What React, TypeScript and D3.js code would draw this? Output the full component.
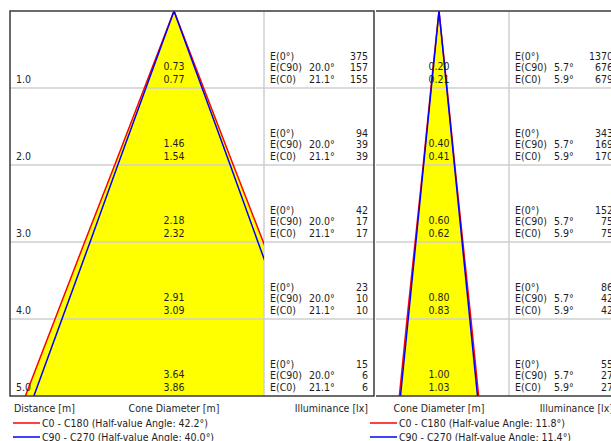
import React from 'react';
import * as d3 from 'd3';

const distances = [1, 2, 3, 4, 5];
const distanceLabels = ['1.0', '2.0', '3.0', '4.0', '5.0'];

const leftC90Diameter = [0.73, 1.46, 2.18, 2.91, 3.64];
const leftC0Diameter = [0.77, 1.54, 2.32, 3.09, 3.86];
const leftE0 = [375, 94, 42, 23, 15];
const leftEC90 = [157, 39, 17, 10, 6];
const leftEC0 = [155, 39, 17, 10, 6];
const leftAngleC90 = '20.0°';
const leftAngleC0 = '21.1°';
const leftLegend = ['C0 - C180 (Half-value Angle: 42.2°)', 'C90 - C270 (Half-value Angle: 40.0°)'];

const rightC90Diameter = [0.2, 0.4, 0.6, 0.8, 1.0];
const rightC0Diameter = [0.21, 0.41, 0.62, 0.83, 1.03];
const rightE0 = [1370, 343, 152, 86, 55];
const rightEC90 = [676, 169, 75, 42, 27];
const rightEC0 = [679, 170, 75, 42, 27];
const rightAngleC90 = '5.7°';
const rightAngleC0 = '5.9°';
const rightLegend = ['C0 - C180 (Half-value Angle: 11.8°)', 'C90 - C270 (Half-value Angle: 11.4°)'];

const tableRowLabels = ['E(0°)', 'E(C90)', 'E(C0)'];

const W = 611;
const H = 441;
const TOP = 11;
const BOTTOM = 396;
const FONT = "'DejaVu Sans Condensed', 'DejaVu Sans', sans-serif";
const TEXT = '#1e1e1e';
const FRAME = '#3a3a3a';
const GRID = '#cfcfcf';
const RED = '#ff0000';
const BLUE = '#0000ff';

const y = d3.scaleLinear().domain([0, 5]).range([TOP, BOTTOM]);

type PanelProps = {
  id: string;
  center: number;
  coneLeft: number;
  divider: number;
  right: number;
  c90: number[];
  c0: number[];
  e0: number[];
  ec90: number[];
  ec0: number[];
  angC90: string;
  angC0: string;
  showDistance: boolean;
  legend: string[];
  legendX: number;
};

function Panel(p: PanelProps) {
  const pxPerM = y(1) - y(0);
  const x = d3.scaleLinear().domain([-1, 1]).range([p.center - pxPerM, p.center + pxPerM]);
  const edge = (diam: number[], side: number): [number, number][] => [
    [x(0), y(0)],
    ...distances.map((d, i) => [x((side * diam[i]) / 2), y(d)] as [number, number]),
  ];
  const line = d3.line();
  const fillPts = [...edge(p.c0, -1).reverse(), ...edge(p.c0, 1).slice(1)];
  const fillPath = line(fillPts) + 'Z';
  const tableX = p.divider + 6;
  const angleX = p.divider + 45;
  const numX = p.divider + 104;
  return (
    <g>
      <defs>
        <clipPath id={'clip-' + p.id}>
          <rect x={p.coneLeft} y={TOP} width={p.divider - p.coneLeft} height={BOTTOM - TOP} />
        </clipPath>
      </defs>
      <g clipPath={`url(#clip-${p.id})`}>
        <path d={fillPath} fill="#ffff00" stroke="none" />
      </g>
      {distances.slice(0, -1).map((d) => (
        <line key={d} x1={p.coneLeft} x2={p.right} y1={y(d)} y2={y(d)} stroke={GRID} strokeWidth={1.5} />
      ))}
      <line x1={p.divider} x2={p.divider} y1={TOP} y2={BOTTOM} stroke={GRID} strokeWidth={1.5} />
      <g clipPath={`url(#clip-${p.id})`} fill="none" strokeWidth={1.5}>
        <path d={line(edge(p.c0, -1)) || ''} stroke={RED} />
        <path d={line(edge(p.c0, 1)) || ''} stroke={RED} />
        <path d={line(edge(p.c90, -1)) || ''} stroke={BLUE} />
        <path d={line(edge(p.c90, 1)) || ''} stroke={BLUE} />
      </g>
      <g fontFamily={FONT} fontSize={10.5} fill={TEXT}>
        {distances.map((d, i) => {
          const top = y(d - 1);
          return (
            <g key={d}>
              {p.showDistance && (
                <text x={16} y={top + 71.5}>{distanceLabels[i]}</text>
              )}
              <text x={p.center} y={top + 58.5} textAnchor="middle">{p.c90[i].toFixed(2)}</text>
              <text x={p.center} y={top + 71.5} textAnchor="middle">{p.c0[i].toFixed(2)}</text>
              {tableRowLabels.map((lab, j) => (
                <text key={lab} x={tableX} y={top + 48.5 + j * 11.5}>{lab}</text>
              ))}
              <text x={angleX} y={top + 60}>{p.angC90}</text>
              <text x={angleX} y={top + 71.5}>{p.angC0}</text>
              <text x={numX} y={top + 48.5} textAnchor="end">{p.e0[i]}</text>
              <text x={numX} y={top + 60} textAnchor="end">{p.ec90[i]}</text>
              <text x={numX} y={top + 71.5} textAnchor="end">{p.ec0[i]}</text>
            </g>
          );
        })}
        {p.showDistance && <text x={14} y={412}>Distance [m]</text>}
        <text x={p.center} y={412} textAnchor="middle">Cone Diameter [m]</text>
        <text x={numX} y={412} textAnchor="end">Illuminance [lx]</text>
        {p.legend.map((lg, k) => (
          <g key={lg}>
            <line x1={p.legendX} x2={p.legendX + 27} y1={423 + k * 14} y2={423 + k * 14} stroke={k === 0 ? RED : BLUE} strokeWidth={1.5} />
            <text x={p.legendX + 29} y={427 + k * 13.5}>{lg}</text>
          </g>
        ))}
      </g>
    </g>
  );
}

export default function App() {
  return (
    <svg width={W} height={H} style={{ position: 'absolute', left: 0, top: 0, background: '#fff' }}>
      <rect x={0} y={0} width={W} height={H} fill="#fff" />
      <Panel
        id="left"
        center={174}
        coneLeft={10}
        divider={264}
        right={374}
        c90={leftC90Diameter}
        c0={leftC0Diameter}
        e0={leftE0}
        ec90={leftEC90}
        ec0={leftEC0}
        angC90={leftAngleC90}
        angC0={leftAngleC0}
        showDistance={true}
        legend={leftLegend}
        legendX={13}
      />
      <Panel
        id="right"
        center={439}
        coneLeft={376}
        divider={509}
        right={W}
        c90={rightC90Diameter}
        c0={rightC0Diameter}
        e0={rightE0}
        ec90={rightEC90}
        ec0={rightEC0}
        angC90={rightAngleC90}
        angC0={rightAngleC0}
        showDistance={false}
        legend={rightLegend}
        legendX={370}
      />
      <rect x={10} y={TOP} width={364} height={BOTTOM - TOP} fill="none" stroke={FRAME} strokeWidth={1.5} />
      <line x1={376} x2={W} y1={TOP} y2={TOP} stroke={FRAME} strokeWidth={1.5} />
      <line x1={376} x2={W} y1={BOTTOM} y2={BOTTOM} stroke={FRAME} strokeWidth={1.5} />
    </svg>
  );
}
